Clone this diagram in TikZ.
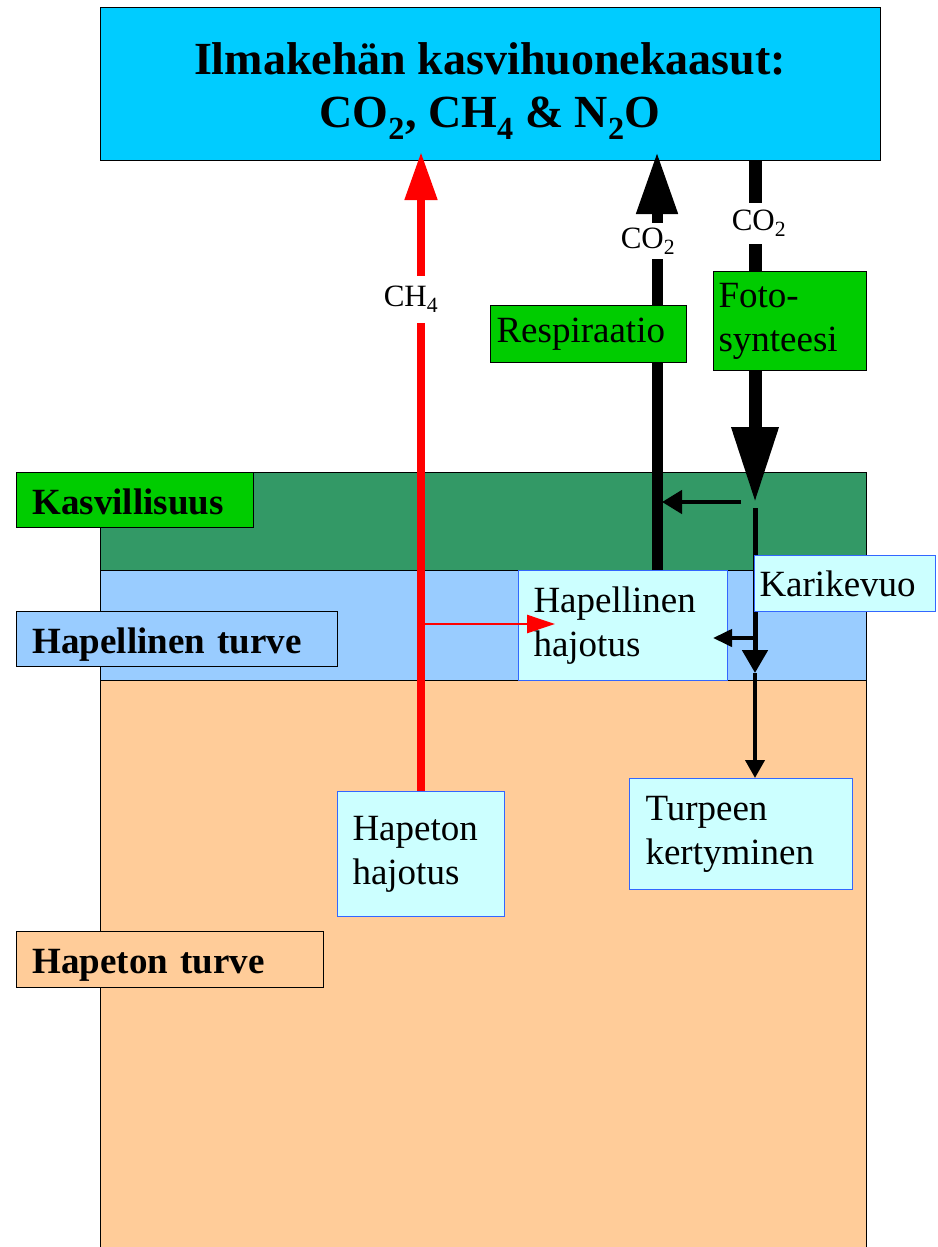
\documentclass[tikz,border=0pt]{standalone}
\usepackage{fontspec}
\setmainfont{Liberation Serif}
\usetikzlibrary{arrows.meta}
\definecolor{skyc}{HTML}{00CCFF}
\definecolor{vegc}{HTML}{339966}
\definecolor{lblgreen}{HTML}{00CC00}
\definecolor{aerc}{HTML}{99CCFF}
\definecolor{anaerc}{HTML}{FFCC99}
\definecolor{procc}{HTML}{CCFFFF}
\definecolor{procb}{HTML}{3366FF}
\definecolor{redc}{HTML}{FF0000}
\tikzset{
  basebox/.style={anchor=north west, inner ysep=0pt, align=left, line width=1pt},
  layerlbl/.style={basebox, draw=black, inner xsep=16pt, text height=34pt, text depth=6pt, font=\fontsize{37}{44}\selectfont\bfseries},
  greenbox/.style={basebox, draw=black, fill=lblgreen, font=\fontsize{37}{44}\selectfont},
  procbox/.style={basebox, draw=procb, fill=procc, font=\fontsize{37}{44}\selectfont},
  gaslbl/.style={fill=white, inner xsep=0pt, inner ysep=0pt, minimum height=40pt, font=\fontsize{31}{36}\selectfont},
  bigred/.style={draw=redc, line width=8pt, -{Triangle[length=48pt,width=31pt]}},
  bigresp/.style={draw=black, line width=11pt, -{Triangle[length=62pt,width=39pt]}},
  bigphoto/.style={draw=black, line width=13pt, -{Triangle[length=76pt,width=44pt]}},
  thinblk/.style={draw=black, line width=4.5pt, -{Triangle[length=20pt,width=23pt]}},
}
\begin{document}
\begin{tikzpicture}[x=1pt,y=-1pt]
\useasboundingbox (0,0) rectangle (937,1247);
% layers
\filldraw[fill=vegc, draw=black, line width=1pt] (100,472) rectangle (866,570);
\filldraw[fill=aerc, draw=black, line width=1pt] (100,570) rectangle (866,680);
\filldraw[fill=anaerc, draw=black, line width=1pt] (100,680) rectangle (866,1250);
% top box
\node[anchor=north west, draw=black, line width=1pt, fill=skyc, minimum width=780pt, minimum height=153pt] (top) at (100,7) {};
\node[anchor=north, inner sep=0pt, align=center, font=\fontsize{46}{53}\selectfont\bfseries] (title) at (490,42)
  {Ilmakehän kasvihuonekaasut:\\CO\textsubscript{2}, CH\textsubscript{4} \& N\textsubscript{2}O};
% process boxes
\node[procbox, inner xsep=15pt, text width=137pt, minimum height=125pt] (hh) at (337,791) {Hapeton\\hajotus};
\node[procbox, inner xsep=15pt, text width=179pt, minimum height=110pt] (hap) at (518,570) {Hapellinen\\hajotus};
\node[procbox, inner xsep=16pt, text width=191pt, minimum height=111pt] (turve) at (629,778) {Turpeen\\kertyminen};
% coordinates
\coordinate (ch4top) at (421,152);
\coordinate (rtop) at (657,152);
\coordinate (ptop) at (755,160);
\coordinate (ptip) at (755,503);
\coordinate (branch) at (741,502);
\coordinate (branchend) at (662,502);
\coordinate (lstart) at (755,508);
\coordinate (lmid) at (755,673);
\coordinate (hjoin) at (755,638);
\coordinate (hjend) at (713,638);
\coordinate (rjoin) at (421,624);
\coordinate (rjend) at (555,624);
% vertical litter line
\draw[draw=black, line width=5pt, -{Triangle[length=23pt,width=25pt]}] (lstart) -- (lmid);
\draw[draw=black, line width=4pt, -{Triangle[length=18pt,width=19pt]}] (lmid) -- (turve.north -| lmid);
% big arrows
\draw[bigred] (hh.north -| ch4top) -- (ch4top);
\draw[bigresp] (hap.north -| rtop) -- (rtop);
\draw[bigphoto] (ptop) -- (ptip);
\draw[thinblk] (branch) -- (branchend);
\draw[draw=black, line width=4pt, -{Triangle[length=19pt,width=17pt]}] (hjoin) -- (hjend);
\draw[draw=redc, line width=2.5pt, -{Triangle[length=28pt,width=18pt]}] (rjoin) -- (rjend);
% gas labels
\node[gaslbl, minimum height=47pt] (ch4) at (411,299) {CH\textsubscript{4}};
\node[gaslbl, minimum height=36pt] (co2a) at (648,241) {CO\textsubscript{2}};
\node[gaslbl, minimum height=41pt] (co2b) at (759,223) {CO\textsubscript{2}};
% green boxes
\node[greenbox, inner xsep=6pt, text width=184pt, minimum height=57pt] (resp) at (490,305) {Respiraatio};
\node[greenbox, inner xsep=5pt, text width=143pt, minimum height=99pt] (foto) at (713,271) {Foto-\\synteesi};
\node[procbox, inner xsep=5pt, text width=171pt, minimum height=56pt] (kari) at (754,555) {Karikevuo};
% layer labels
\node[layerlbl, fill=lblgreen, text width=205pt, minimum height=55pt] (kas) at (16,472) {Kasvillisuus};
\node[layerlbl, fill=aerc, text width=289pt, minimum height=55pt] (hapt) at (16,611) {Hapellinen turve};
\node[layerlbl, fill=anaerc, text width=275pt, minimum height=56pt] (hapet) at (16,931) {Hapeton turve};
\end{tikzpicture}
\end{document}
